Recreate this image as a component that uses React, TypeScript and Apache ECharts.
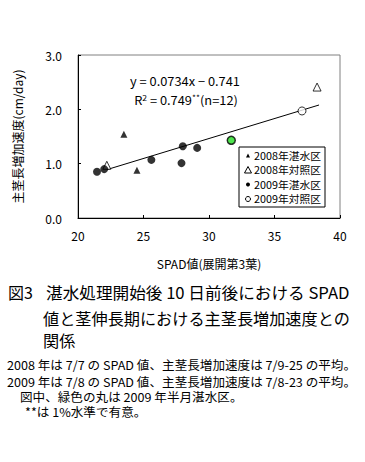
import React, { useEffect, useRef } from "react";
import * as echarts from "echarts";

const xTicks = { min: 20, max: 40, interval: 5 };
const yTicks = { min: 0, max: 3, interval: 1 };

const flood2008: number[][] = [[23.5, 1.54], [24.5, 0.88]];
const control2008: number[][] = [[22.2, 0.97], [38.25, 2.41]];
const flood2009: number[][] = [[21.45, 0.85], [22.0, 0.9], [25.6, 1.07], [28.0, 1.32], [27.9, 1.01], [29.1, 1.29]];
const halfFlood2009: number[][] = [[31.7, 1.43]];
const control2009: number[][] = [[37.1, 1.97]];
const trendLine: number[][] = [[22.2, 0.89], [38.4, 2.08]];

const legendNames = ["2008年湛水区", "2008年対照区", "2009年湛水区", "2009年対照区"];
const xName = "SPAD値(展開第3葉)";
const yName = "主茎長増加速度(cm/day)";
const eqLine1 = "y = 0.0734x − 0.741";
const captionLines = ["湛水処理開始後 10 日前後における SPAD", "値と茎伸長期における主茎長増加速度との", "関係"];
const noteLines = [
  "2008 年は 7/7 の SPAD 値、主茎長増加速度は 7/9-25 の平均。",
  "2009 年は 7/8 の SPAD 値、主茎長増加速度は 7/8-23 の平均。",
  "図中、緑色の丸は 2009 年半月湛水区。",
  "**は 1%水準で有意。",
];

const FONT = '"Noto Sans CJK JP", "Noto Sans", sans-serif';

export default function App() {
  const ref = useRef<HTMLDivElement>(null);
  useEffect(() => {
    if (!ref.current) return;
    const chart = echarts.init(ref.current, undefined, { renderer: "svg" });
    const lx = 239, ly = 147, lw = 86, lh = 60;
    const rowY = [155.5, 170, 184.5, 199];
    const symX = 248;
    const option: any = {
      animation: false,
      backgroundColor: "#fff",
      textStyle: { fontFamily: FONT },
      grid: { left: 78, right: 25, top: 55, bottom: 244, show: true, borderColor: "#808080", borderWidth: 1 },
      xAxis: {
        type: "value",
        min: xTicks.min,
        max: xTicks.max,
        interval: xTicks.interval,
        name: xName,
        nameLocation: "middle",
        nameGap: 39,
        nameTextStyle: { fontSize: 12, color: "#000", fontFamily: FONT },
        axisLine: { lineStyle: { color: "#000", width: 1 } },
        axisTick: { inside: true, length: 3, lineStyle: { color: "#000" } },
        axisLabel: { fontSize: 12, color: "#000", margin: 11, fontFamily: FONT },
        splitLine: { show: false },
      },
      yAxis: {
        type: "value",
        min: yTicks.min,
        max: yTicks.max,
        interval: yTicks.interval,
        name: yName,
        nameLocation: "middle",
        nameGap: 55,
        nameTextStyle: { fontSize: 12, color: "#000", fontFamily: FONT },
        axisLine: { show: true, lineStyle: { color: "#000", width: 1 } },
        axisTick: { show: true, inside: true, length: 3, lineStyle: { color: "#000" } },
        axisLabel: { fontSize: 12, color: "#000", margin: 16, fontFamily: FONT, formatter: (v: number) => v.toFixed(1) },
        splitLine: { show: false },
      },
      series: [
        {
          type: "line",
          data: trendLine,
          symbol: "none",
          lineStyle: { color: "#000", width: 1 },
          silent: true,
          z: 1,
        },
        {
          name: legendNames[0],
          type: "scatter",
          data: flood2008,
          symbol: "triangle",
          symbolSize: 7,
          itemStyle: { color: "#000" },
          z: 3,
        },
        {
          name: legendNames[1],
          type: "scatter",
          data: control2008,
          symbol: "triangle",
          symbolSize: 8,
          itemStyle: { color: "#fff", borderColor: "#000", borderWidth: 1 },
          z: 2,
        },
        {
          name: legendNames[2],
          type: "scatter",
          data: flood2009,
          symbol: "circle",
          symbolSize: 8,
          itemStyle: { color: "#000" },
          z: 3,
        },
        {
          name: "2009年半月湛水区",
          type: "scatter",
          data: halfFlood2009,
          symbol: "circle",
          symbolSize: 8,
          itemStyle: { color: "#22dd22", borderColor: "#000", borderWidth: 1.5 },
          z: 3,
        },
        {
          name: legendNames[3],
          type: "scatter",
          data: control2009,
          symbol: "circle",
          symbolSize: 8,
          itemStyle: { color: "#fff", borderColor: "#000", borderWidth: 1 },
          z: 3,
        },
      ],
      graphic: [
        {
          type: "text",
          x: 185,
          y: 81,
          scaleX: 1.07,
          style: { text: eqLine1, fontSize: 12, lineHeight: 14, fontFamily: FONT, fill: "#000", align: "center", verticalAlign: "middle" },
        },
        {
          type: "text",
          x: 186,
          y: 100,
          scaleX: 1.07,
          style: {
            text: "{a|R}{s|2}{a| = 0.749}{s|**}{a|(n=12)}",
            fontFamily: FONT,
            align: "center",
            verticalAlign: "middle",
            rich: {
              a: { fontSize: 12, lineHeight: 14, fill: "#000", fontFamily: FONT, color: "#000" },
              s: { fontSize: 8, lineHeight: 14, fill: "#000", fontFamily: FONT, color: "#000", verticalAlign: "top" },
            },
          },
        },
        {
          type: "rect",
          shape: { x: lx, y: ly, width: lw, height: lh },
          style: { fill: "#fff", stroke: "#000", lineWidth: 1 },
          z: 10,
        },
        {
          type: "polygon",
          shape: { points: [[symX, rowY[0] - 2], [symX - 2, rowY[0] + 2], [symX + 2, rowY[0] + 2]] },
          style: { fill: "#000" },
          z: 11,
        },
        {
          type: "polygon",
          shape: { points: [[symX, rowY[1] - 3.5], [symX - 3.5, rowY[1] + 3], [symX + 3.5, rowY[1] + 3]] },
          style: { fill: "#fff", stroke: "#000", lineWidth: 1 },
          z: 11,
        },
        {
          type: "circle",
          shape: { cx: symX, cy: rowY[2], r: 2 },
          style: { fill: "#000" },
          z: 11,
        },
        {
          type: "circle",
          shape: { cx: symX, cy: rowY[3], r: 2.5 },
          style: { fill: "#fff", stroke: "#000", lineWidth: 1 },
          z: 11,
        },
        ...legendNames.map((n, i) => ({
          type: "text",
          x: 254,
          y: rowY[i],
          z: 11,
          scaleX: 1.08,
          style: { text: n, fontSize: 10, lineHeight: 11, fontFamily: FONT, fill: "#000", verticalAlign: "middle" },
        })),
        {
          type: "text",
          x: 8,
          y: 292,
          style: { text: "図3", fontSize: 16, fontFamily: FONT, fill: "#000", verticalAlign: "middle" },
        },
        ...captionLines.map((t, i) => ({
          type: "text",
          x: i === 0 ? 46 : 43,
          y: [292, 318, 340][i],
          scaleX: i === 0 ? 1.04 : 1.01,
          style: { text: t, fontSize: 16, lineHeight: 20, fontFamily: FONT, fill: "#000", verticalAlign: "middle" },
        })),
        ...noteLines.map((t, i) => ({
          type: "text",
          x: [7, 7, 20, 25][i],
          y: [365, 382, 397, 412][i],
          scaleX: 1.05,
          style: { text: t, fontSize: 12, lineHeight: 14, fontFamily: FONT, fill: "#000", verticalAlign: "middle" },
        })),
      ],
    };
    chart.setOption(option);
    return () => chart.dispose();
  }, []);
  return (
    <div
      ref={ref}
      style={{ position: "fixed", left: 0, top: 0, width: 365, height: 462, background: "#fff" }}
    />
  );
}
